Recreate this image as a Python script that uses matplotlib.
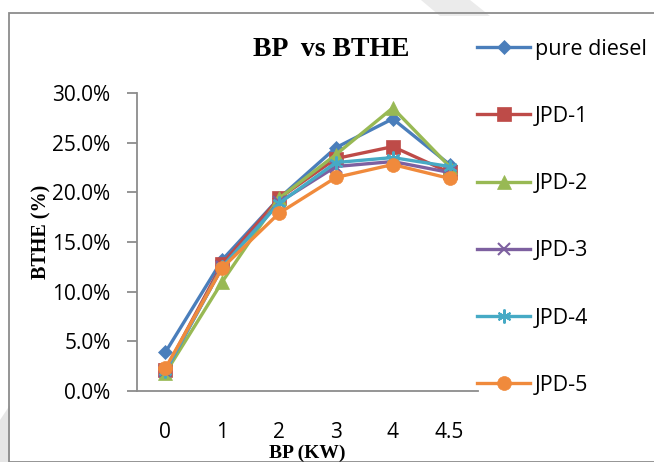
import matplotlib
matplotlib.use('Agg')
import matplotlib.pyplot as plt
from matplotlib.patches import Polygon, Rectangle
from matplotlib.ticker import PercentFormatter

# data (BTHE in %)
bp_labels = ['0', '1', '2', '3', '4', '4.5']
series_names = ['pure diesel', 'JPD-1', 'JPD-2', 'JPD-3', 'JPD-4', 'JPD-5']
pure_diesel = [3.9, 13.2, 19.4, 24.5, 27.4, 22.8]
jpd1 = [2.1, 12.8, 19.4, 23.4, 24.6, 22.0]
jpd2 = [1.8, 11.0, 19.4, 23.8, 28.5, 22.6]
jpd3 = [2.0, 12.5, 19.0, 22.6, 23.1, 22.0]
jpd4 = [2.0, 12.5, 18.9, 23.0, 23.5, 22.6]
jpd5 = [2.3, 12.4, 17.9, 21.5, 22.8, 21.4]

colors = ['#4A7EBB', '#BE4B48', '#98B954', '#7D60A0', '#46AAC5', '#F08A3C']
markers = ['D', 's', '^', 'x', (6, 2, 0), 'o']
msizes = [7, 10, 10, 9, 10, 10]

W, H = 654, 462
fig = plt.figure(figsize=(W / 100, H / 100), dpi=100)

# faint watermark shapes and outer frame (figure pixel coords)
def px(x, y):
    return (x / W, 1 - y / H)

fig.patches.append(Polygon([px(421, 0), px(470, 0), px(490, 16), px(440, 16)],
                           closed=True, transform=fig.transFigure,
                           facecolor='#ebebeb', edgecolor='none', zorder=0))
fig.patches.append(Polygon([px(0, 420), px(10, 405), px(10, 462), px(0, 462)],
                           closed=True, transform=fig.transFigure,
                           facecolor='#e6e6e6', edgecolor='none', zorder=0))
fig.patches.append(Rectangle(px(9, 462), (W + 10) / W, (462 - 13) / H,
                             transform=fig.transFigure, fill=False,
                             edgecolor='#8c8c8c', linewidth=1.3, zorder=1))

ax = fig.add_axes([137 / W, 1 - 391 / H, (478 - 137) / W, (391 - 93) / H])

x = list(range(len(bp_labels)))
all_series = [pure_diesel, jpd1, jpd2, jpd3, jpd4, jpd5]
for vals, name, c, m, ms in zip(all_series, series_names, colors, markers, msizes):
    thin = m == 'x' or isinstance(m, tuple)
    ax.plot(x, vals, color=c, marker=m, markersize=ms, linewidth=2.4,
            markeredgewidth=1.5 if thin else 0.5,
            markeredgecolor=c, label=name)

ax.set_xlim(-0.5, len(bp_labels) - 0.5)
ax.set_ylim(0, 30)
ax.set_yticks([0, 5, 10, 15, 20, 25, 30])
ax.yaxis.set_major_formatter(PercentFormatter(decimals=1))
ax.set_xticks(x)
ax.set_xticklabels(bp_labels)

for s in ['top', 'right']:
    ax.spines[s].set_visible(False)
for s in ['left', 'bottom']:
    ax.spines[s].set_color('#8c8c8c')
    ax.spines[s].set_linewidth(1.3)

ax.tick_params(axis='y', length=7, width=1.3, color='#8c8c8c', labelsize=15, pad=12)
ax.tick_params(axis='x', length=0, labelsize=15, pad=22)
for lab in ax.get_xticklabels() + ax.get_yticklabels():
    lab.set_fontfamily('Open Sans')

fig.text(331 / W, 1 - 50 / H, 'BP  vs BTHE', fontfamily='Liberation Serif',
         fontweight='bold', fontsize=20, ha='center', va='center')
fig.text(307 / W, 1 - 453 / H, 'BP (KW)', fontfamily='Liberation Serif',
         fontweight='bold', fontsize=14, ha='center', va='center')
fig.text(41 / W, 1 - 232 / H, 'BTHE (%)', fontfamily='Liberation Serif',
         fontweight='bold', fontsize=14.5, ha='center', va='center', rotation=90)

leg = fig.legend(loc='upper left', bbox_to_anchor=(468 / W, 1 - 30 / H),
                 frameon=False, prop={'family': 'Open Sans', 'size': 15.5},
                 handlelength=2.5, handletextpad=0.2, labelspacing=2.15,
                 borderaxespad=0)

fig.savefig('out.png', dpi=100)
